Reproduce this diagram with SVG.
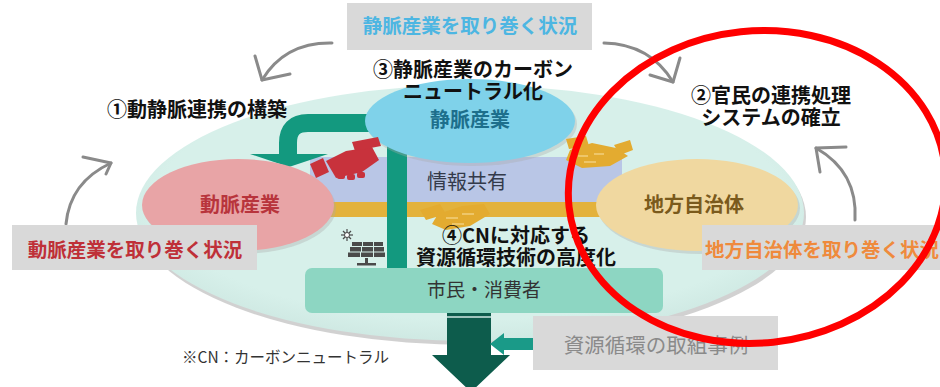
<svg xmlns="http://www.w3.org/2000/svg" width="940" height="387" viewBox="0 0 940 387">
  <style>
    text { font-family: "Noto Sans CJK JP", "Noto Sans", sans-serif; }
    .head { font-size: 20px; font-weight: bold; fill: #111; text-anchor: middle; }
    .sit { font-size: 19.5px; font-weight: bold; }
    .node { font-size: 20px; font-weight: bold; text-anchor: middle; }
    .gbox { fill: #d9d9d9; }
    .garrow { fill: none; stroke: #8a8a8a; stroke-width: 3; stroke-linecap: round; stroke-linejoin: round; }
    .gold { fill: #e3ab30; }
    .red { fill: #c8323c; }
  </style>
  <defs>
    <radialGradient id="mintShade" cx="0.5" cy="0.45" r="0.55">
      <stop offset="0.85" stop-color="#d7f0ea"/>
      <stop offset="1" stop-color="#cfe9e3"/>
    </radialGradient>
  </defs>

  <!-- background -->
  <rect width="940" height="387" fill="#ffffff"/>

  <!-- large shared field with soft shadow -->
  <g id="field">
    <ellipse cx="472" cy="217" rx="334" ry="128" fill="#9a9a9a" opacity="0.45"/>
    <ellipse cx="470" cy="213" rx="334" ry="128" fill="url(#mintShade)"/>
  </g>

  <!-- information sharing band -->
  <g id="info-band">
    <rect x="310" y="157" width="312" height="46" fill="#b9c6e6"/>
    <rect x="325" y="202" width="282" height="15" fill="#e3b23c"/>
    <text x="467" y="189" font-size="20" text-anchor="middle" fill="#333a4a">情報共有</text>
  </g>

  <!-- connectors -->
  <g id="connectors">
    <!-- curved arrow from 静脈産業 to 動脈産業 -->
    <path d="M372,123 H308 Q288,123 288,143 V156" fill="none" stroke="#13997f" stroke-width="18"/>
    <polygon points="250,154 328,154 289,167" fill="#13997f"/>
    <!-- vertical link to 市民・消費者 -->
    <rect x="387" y="140" width="20" height="130" fill="#13997f"/>
    <!-- down arrow from 市民・消費者 -->
    <polygon points="447,313 491,313 491,355 510,355 471,392 432,355 447,355" fill="#0d5c4c"/>
    <line x1="447" y1="317" x2="491" y2="317" stroke="#cfe9e3" stroke-width="1.5"/>
    <!-- small arrow from 資源循環の取組事例 -->
    <polygon points="490,344 504,333 504,338 534,338 534,350 504,350 504,355" fill="#1a9a88"/>
    <!-- grey cycle arrows -->
    <path class="garrow" d="M332,43 Q285,42 262,80"/>
    <path class="garrow" d="M255,56 L262,80 L290,74"/>
    <path class="garrow" d="M604,43 Q650,44 673,82"/>
    <path class="garrow" d="M680,58 L673,82 L650,75"/>
    <path class="garrow" d="M855,220 Q858,172 816,148"/>
    <path class="garrow" d="M846,147 L816,148 L820,172"/>
    <path class="garrow" d="M66,224 Q70,182 111,163"/>
    <path class="garrow" d="M83,157 L111,163 L106,174"/>
  </g>

  <!-- nodes -->
  <g id="node-domyaku">
    <ellipse cx="240" cy="208" rx="96" ry="46" fill="#a8a8a8" opacity="0.35"/>
    <ellipse cx="238" cy="205" rx="96" ry="46" fill="#e8a4a6"/>
    <text class="node" x="240" y="212" fill="#b8343c">動脈産業</text>
  </g>
  <g id="node-jomyaku">
    <ellipse cx="472" cy="124" rx="105" ry="42" fill="#a8a8a8" opacity="0.35"/>
    <ellipse cx="470" cy="121" rx="105" ry="42" fill="#7fd2ea"/>
    <text class="node" x="470" y="127" fill="#1d6f8c">静脈産業</text>
  </g>
  <g id="node-jichitai">
    <ellipse cx="699" cy="208" rx="101" ry="46" fill="#a8a8a8" opacity="0.35"/>
    <ellipse cx="697" cy="205" rx="101" ry="46" fill="#f0d8a0"/>
    <text class="node" x="694" y="212" fill="#7a5a1c">地方自治体</text>
  </g>

  <!-- handshake icons -->
  <g id="handshake-red" class="red">
    <polygon points="310,164 323,158 329,172 316,178"/>
    <polygon points="326,161 346,151 372,147 379,160 362,172 336,178"/>
    <polygon points="352,142 378,137 381,146 355,151"/>
    <rect x="337" y="173" width="8" height="6" rx="2"/>
    <rect x="347" y="174" width="8" height="6" rx="2"/>
    <rect x="357" y="172" width="8" height="6" rx="2"/>
  </g>
  <g id="handshake-gold-top" class="gold">
    <polygon points="566,139 586,136 589,146 569,149"/>
    <polygon points="570,150 592,143 616,148 628,156 610,166 582,168 566,160"/>
    <polygon points="614,145 630,140 633,150 620,155"/>
    <path d="M578,156 h10 M594,154 h10 M584,162 h12" stroke="#f2cf7c" stroke-width="1.5"/>
  </g>
  <g id="handshake-gold-bottom" class="gold">
    <polygon points="420,210 440,204 446,214 426,220"/>
    <polygon points="438,214 462,206 484,204 490,214 470,226 446,230 432,224"/>
    <path d="M446,218 h12 M462,214 h12 M452,224 h12" stroke="#f2cf7c" stroke-width="1.5"/>
  </g>

  <!-- solar panel icon -->
  <g id="solar" fill="#4a4a4a">
    <g stroke="#4a4a4a" stroke-width="1.2">
      <line x1="347" y1="229" x2="347" y2="241"/>
      <line x1="341" y1="235" x2="353" y2="235"/>
      <line x1="343" y1="231" x2="351" y2="239"/>
      <line x1="351" y1="231" x2="343" y2="239"/>
    </g>
    <circle cx="347" cy="235" r="2.5" fill="#fff" stroke="#4a4a4a" stroke-width="1"/>
    <rect x="352" y="242" width="10" height="4"/>
    <rect x="363" y="242" width="10" height="4"/>
    <rect x="374" y="242" width="9" height="4"/>
    <rect x="350" y="247" width="11" height="4.5"/>
    <rect x="362" y="247" width="11" height="4.5"/>
    <rect x="374" y="247" width="10" height="4.5"/>
    <rect x="348" y="252.5" width="12" height="4.5"/>
    <rect x="361" y="252.5" width="12" height="4.5"/>
    <rect x="374" y="252.5" width="11" height="4.5"/>
    <rect x="365" y="258" width="3" height="6"/>
    <rect x="357" y="263" width="19" height="2.5"/>
  </g>

  <!-- heading labels -->
  <g id="labels">
    <text class="head" x="473" y="77">③静脈産業のカーボン</text>
    <text class="head" x="473" y="99">ニュートラル化</text>
    <text class="head" x="197" y="117">①動静脈連携の構築</text>
    <text class="head" x="771" y="103">②官民の連携処理</text>
    <text class="head" x="771" y="125">システムの確立</text>
    <text class="head" x="516" y="243">④CNに対応する</text>
    <text class="head" x="516" y="265">資源循環技術の高度化</text>
    <text x="182" y="363" font-size="15.5" fill="#333">※CN：カーボンニュートラル</text>
  </g>

  <!-- surrounding-situation boxes -->
  <g id="box-jomyaku">
    <rect class="gbox" x="347" y="3" width="245" height="47"/>
    <text class="sit" x="470" y="33" text-anchor="middle" fill="#4db6e2">静脈産業を取り巻く状況</text>
  </g>
  <g id="box-domyaku">
    <rect class="gbox" x="12" y="225" width="245" height="45"/>
    <text class="sit" x="135" y="257" text-anchor="middle" fill="#bf3038">動脈産業を取り巻く状況</text>
  </g>
  <g id="box-jichitai">
    <rect class="gbox" x="702" y="225" width="245" height="45"/>
    <text class="sit" x="705" y="257" fill="#ef8a3c">地方自治体を取り巻く状況</text>
  </g>

  <!-- citizens / consumers -->
  <g id="node-shimin">
    <rect x="305" y="268" width="358" height="45" rx="7" fill="#8dd6c2"/>
    <text x="484" y="297" font-size="19" text-anchor="middle" fill="#333">市民・消費者</text>
  </g>

  <!-- resource circulation examples -->
  <g id="box-jirei">
    <rect class="gbox" x="533" y="316" width="245" height="54"/>
    <text x="656" y="353" font-size="20.5" text-anchor="middle" fill="#8a8a8a">資源循環の取組事例</text>
  </g>

  <!-- highlight ring -->
  <g id="highlight">
    <ellipse cx="757" cy="187" rx="189" ry="156" fill="none" stroke="#ff0000" stroke-width="7" transform="rotate(-6 757 187)"/>
  </g>
</svg>
